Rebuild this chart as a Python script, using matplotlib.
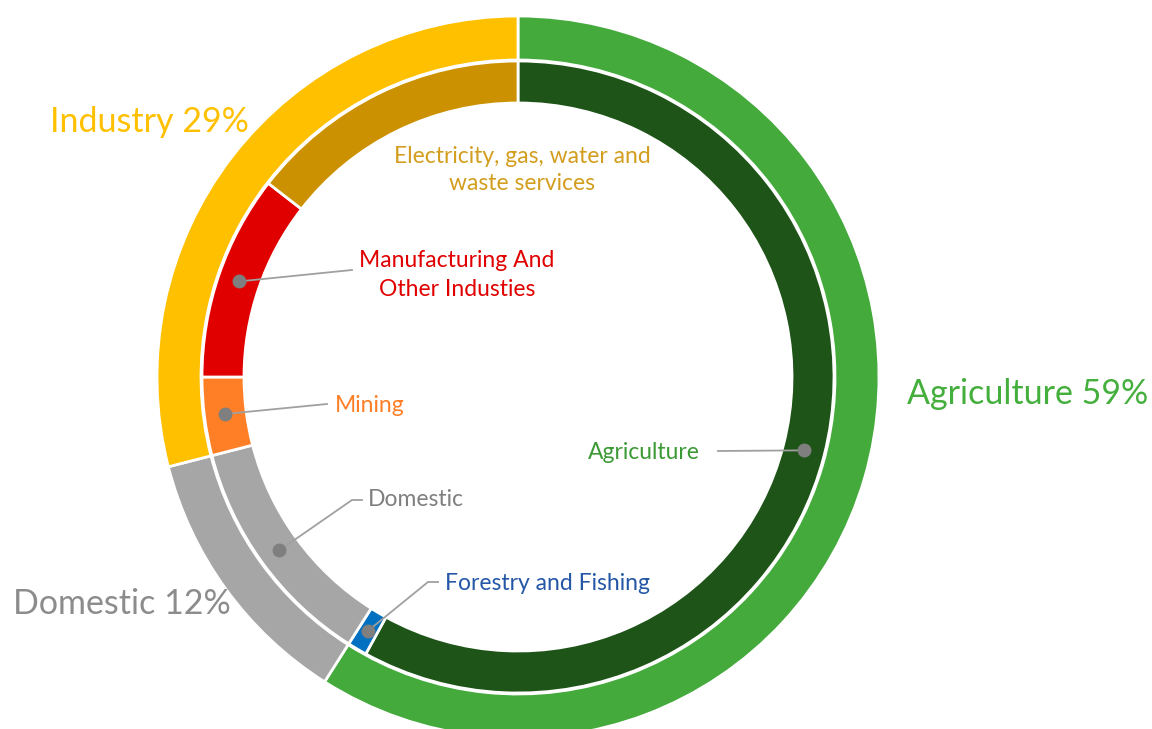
import numpy as np
import matplotlib
matplotlib.use("Agg")
import matplotlib.pyplot as plt

# ---- data ----
outer_labels = ["Agriculture", "Domestic", "Industry"]
outer_values = [59, 12, 29]
inner_labels = ["Agriculture", "Forestry and Fishing", "Domestic", "Mining",
                "Manufacturing And\nOther Industies",
                "Electricity, gas, water and\nwaste services"]
inner_values = [58, 1, 12, 4, 10.5, 14.5]

outer_colors = ["#43AA3B", "#A6A6A6", "#FFC000"]
inner_colors = ["#1E5418", "#0070C0", "#A6A6A6", "#FF7F27", "#E00000", "#CC9100"]

W, H = 1152, 729
plt.rcParams['font.family'] = ['Lato', 'DejaVu Sans']

fig = plt.figure(figsize=(W / 100, H / 100), dpi=100)
ax = fig.add_axes([0, 0, 1, 1])

def fy(y):
    return H - y

cx, cy = 518, fy(377)
R_out, w_out = 361, 44
R_in, w_in = 316, 42

ax.pie(outer_values, colors=outer_colors, startangle=90, counterclock=False,
       radius=R_out, center=(cx, cy),
       wedgeprops=dict(width=w_out, edgecolor="white", linewidth=2))
ax.pie(inner_values, colors=inner_colors, startangle=90, counterclock=False,
       radius=R_in, center=(cx, cy),
       wedgeprops=dict(width=w_in, edgecolor="white", linewidth=2))

ax.set_xlim(0, W)
ax.set_ylim(0, H)
ax.set_aspect("equal")
ax.axis("off")

# ---- outer labels ----
big = 24.5
ax.text(50, fy(122), f"{outer_labels[2]} {outer_values[2]}%", color="#FFC000",
        fontsize=big, ha="left", va="center")
ax.text(907, fy(394), f"{outer_labels[0]} {outer_values[0]}%", color="#44AF3C",
        fontsize=big, ha="left", va="center")
ax.text(13, fy(604), f"{outer_labels[1]} {outer_values[1]}%", color="#8C8C8C",
        fontsize=big, ha="left", va="center")

# ---- dot positions at wedge mid-angles ----
cum = np.cumsum([0] + inner_values)
mids = (cum[:-1] + cum[1:]) / 2
r_mid = R_in - w_in / 2
dots = []
for m in mids:
    th = np.deg2rad(90 - 360 * m / 100)
    dots.append((cx + r_mid * np.cos(th), cy + r_mid * np.sin(th)))

small = 16.5
line_c = "#A0A0A0"
dot_c = "#7F7F7F"

def leader(i, pts):
    xs = [dots[i][0]] + [p[0] for p in pts]
    ys = [dots[i][1]] + [fy(p[1]) for p in pts]
    ax.plot(xs, ys, color=line_c, lw=1.3, zorder=3)
    ax.plot(dots[i][0], dots[i][1], "o", color=dot_c, ms=9, zorder=4)

# Agriculture (inner)
leader(0, [(718, 451)])
ax.text(700, fy(452), inner_labels[0], color="#3C9A34", fontsize=small,
        ha="right", va="center")
# Forestry and Fishing
leader(1, [(428, 582), (438, 582)])
ax.text(445, fy(583), inner_labels[1], color="#2457A6", fontsize=small,
        ha="left", va="center")
# Domestic (inner)
leader(2, [(352, 500), (362, 500)])
ax.text(368, fy(499), inner_labels[2], color="#7F7F7F", fontsize=small,
        ha="left", va="center")
# Mining
leader(3, [(327, 404)])
ax.text(335, fy(405), inner_labels[3], color="#FF7F27", fontsize=small,
        ha="left", va="center")
# Manufacturing
leader(4, [(352, 270)])
ax.text(457, fy(275), inner_labels[4], color="#E00000", fontsize=small,
        ha="center", va="center", multialignment="center", linespacing=1.42)
# Electricity
ax.text(522, fy(170), inner_labels[5], color="#D39E1E", fontsize=small,
        ha="center", va="center", multialignment="center", linespacing=1.38)

fig.savefig("out.png", dpi=100, facecolor="white")
